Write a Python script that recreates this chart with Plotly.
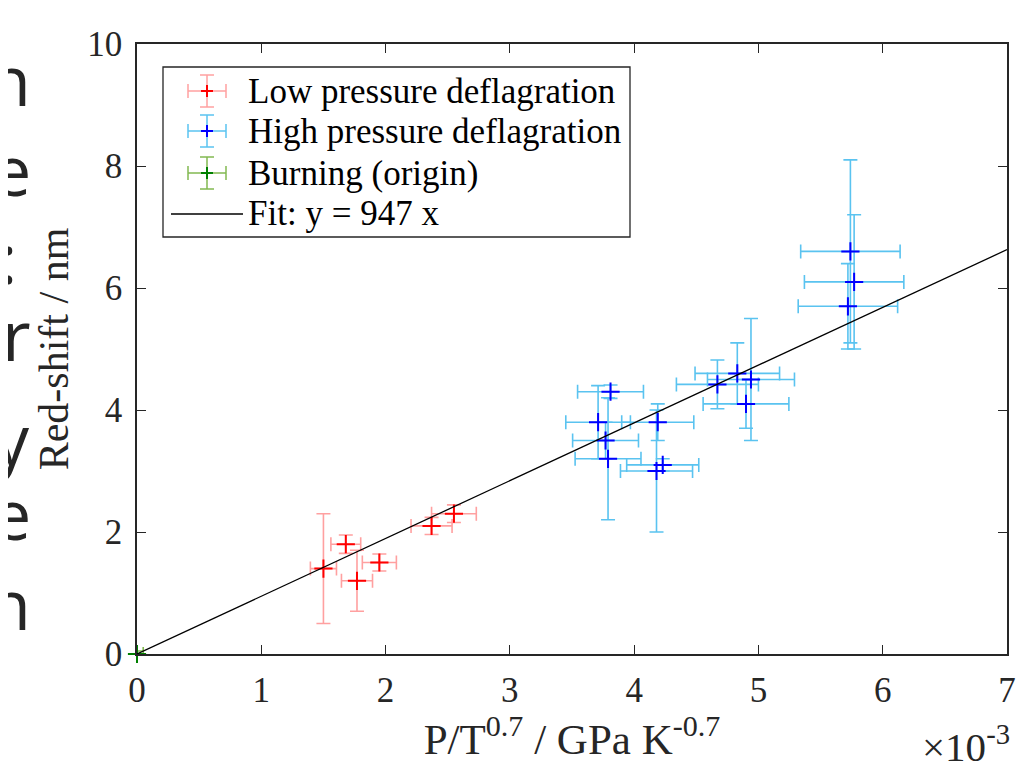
import plotly.graph_objects as go

# ---------------- data (x in units of 1e-3 GPa K^-0.7) ----------------
low_x = [1.50, 1.68, 1.77, 1.95, 2.37, 2.55]
low_y = [1.40, 1.80, 1.20, 1.50, 2.10, 2.30]
low_xerr = [0.105, 0.12, 0.125, 0.137, 0.165, 0.18]
low_yerr = [0.90, 0.15, 0.50, 0.14, 0.14, 0.145]

high_x = [3.71, 3.77, 3.79, 3.81, 4.18, 4.19, 4.23, 4.67, 4.83, 4.90, 4.94, 5.72, 5.74, 5.77]
high_y = [3.80, 3.50, 3.20, 4.30, 3.00, 3.80, 3.10, 4.42, 4.60, 4.10, 4.50, 5.70, 6.60, 6.10]
high_xerr = [0.26, 0.265, 0.265, 0.265, 0.29, 0.29, 0.29, 0.33, 0.34, 0.345, 0.35, 0.40, 0.40, 0.40]
high_yerr = [0.60, 0.30, 1.00, 0.11, 1.00, 0.30, 0.10, 0.40, 0.50, 0.40, 1.00, 0.70, 1.50, 1.10]

origin_x = [0.0]
origin_y = [0.0]
origin_xerr = [0.05]
origin_yerr = [0.05]

fit_slope = 947  # nm per (GPa K^-0.7)
fit_x = [0.0, 7.0]
fit_y = [fit_slope * v * 1e-3 for v in fit_x]

x_ticks = [0, 1, 2, 3, 4, 5, 6, 7]
y_ticks = [0, 2, 4, 6, 8, 10]

series_names = ["Low pressure deflagration", "High pressure deflagration",
                "Burning (origin)", "Fit: y = 947 x"]

side_letters = ["n", "e", ":", "r", "y", "e", "n"]
side_letter_y = [79, 169, 257, 334, 438, 513, 603]   # page pixel rows
side_letter_x = [33, 33, 19, 33, 32, 33, 33]         # anchor (right), page pixels

# ---------------- figure ----------------
OFF = 8                       # default body margin of the html page
W, H = 1033 - OFF, 763 - OFF
PL, PR, PT, PB = 137, 1007, 44, 654   # plot area in page pixels
L, R, T, B = PL - OFF, (OFF + W) - PR, PT - OFF, (OFF + H) - PB
PW, PH = PR - PL, PB - PT
SERIF = "Liberation Serif, Times New Roman, serif"
AXC = "#262626"

RED_BAR, RED_MK = "rgb(255,160,160)", "rgb(255,0,0)"
BLUE_BAR, BLUE_MK = "rgb(90,195,240)", "rgb(0,0,255)"
GRN_BAR, GRN_MK = "rgb(130,185,80)", "rgb(0,128,0)"


def px_to_paper(px, py):
    return (px - PL) / PW, (PB - py) / PH


fig = go.Figure()


def err_series(xs, ys, xe, ye, bar_col, mk_col, name):
    fig.add_trace(go.Scatter(
        x=xs, y=ys, mode="markers", name=name, showlegend=False,
        marker=dict(symbol="cross-thin", size=13, color=mk_col,
                    line=dict(color=mk_col, width=2)),
        error_x=dict(type="data", array=xe, color=bar_col, thickness=1.6, width=7),
        error_y=dict(type="data", array=ye, color=bar_col, thickness=1.6, width=7),
        cliponaxis=False,
    ))


err_series(low_x, low_y, low_xerr, low_yerr, RED_BAR, RED_MK, series_names[0])
err_series(high_x, high_y, high_xerr, high_yerr, BLUE_BAR, BLUE_MK, series_names[1])
err_series(origin_x, origin_y, origin_xerr, origin_yerr, GRN_BAR, GRN_MK, series_names[2])

fig.add_trace(go.Scatter(
    x=fit_x, y=fit_y, mode="lines", name=series_names[3], showlegend=False,
    line=dict(color="black", width=1.3),
))

axis_common = dict(
    showline=True, linecolor=AXC, linewidth=1.5, mirror="ticks",
    ticks="inside", ticklen=9, tickwidth=1.3, tickcolor=AXC,
    showgrid=False, zeroline=False,
    tickfont=dict(family=SERIF, size=35, color=AXC),
)

fig.update_xaxes(range=[0, 7], tickvals=x_ticks, ticktext=[str(v) for v in x_ticks],
                 ticklabelstandoff=4,
                 title=dict(text="P/T<sup>0.7</sup> / GPa K<sup>-0.7</sup>",
                            font=dict(family=SERIF, size=43, color=AXC), standoff=10),
                 **axis_common)
fig.update_yaxes(range=[0, 10], tickvals=y_ticks, ticktext=[str(v) for v in y_ticks],
                 ticklabelstandoff=6,
                 title=dict(text="Red-shift / nm",
                            font=dict(family=SERIF, size=42, color=AXC), standoff=6),
                 **axis_common)

shapes = []
annotations = []

# exponent label of x axis
ax_, ay_ = px_to_paper(1012, 716)
annotations.append(dict(
    text="\u00d710<sup>-3</sup>", xref="paper", yref="paper",
    x=ax_, y=ay_, xanchor="right", yanchor="top", showarrow=False,
    font=dict(family=SERIF, size=41, color=AXC),
))

# cropped slide text at the far left
for ch, py, pxr in zip(side_letters, side_letter_y, side_letter_x):
    lx, ly = px_to_paper(pxr, py)
    annotations.append(dict(
        text=ch, xref="paper", yref="paper",
        x=lx, y=ly, xanchor="right", yanchor="middle", showarrow=False,
        font=dict(family="Open Sans, Noto Sans, sans-serif", size=70, color="#262626"),
    ))

# ---------------- legend (drawn in paper space) ----------------
def seg(x0, y0, x1, y1, color, width):
    a, b = px_to_paper(x0, y0)
    c, d = px_to_paper(x1, y1)
    shapes.append(dict(type="line", xref="paper", yref="paper",
                       x0=a, y0=b, x1=c, y1=d, line=dict(color=color, width=width)))


bx0, by0 = px_to_paper(163, 67)
bx1, by1 = px_to_paper(630, 237)
shapes.append(dict(type="rect", xref="paper", yref="paper", x0=bx0, y0=by1, x1=bx1, y1=by0,
                   line=dict(color=AXC, width=1.3), fillcolor="white", layer="above"))

row_y = [91, 131, 173, 214]
icon_cx = 207
icon_cols = [(RED_BAR, RED_MK), (BLUE_BAR, BLUE_MK), (GRN_BAR, GRN_MK)]
for (bar_c, mk_c), cy in zip(icon_cols, row_y[:3]):
    seg(icon_cx - 19, cy, icon_cx + 19, cy, bar_c, 1.5)
    seg(icon_cx - 19, cy - 7, icon_cx - 19, cy + 7, bar_c, 1.5)
    seg(icon_cx + 19, cy - 7, icon_cx + 19, cy + 7, bar_c, 1.5)
    seg(icon_cx, cy - 16, icon_cx, cy + 16, bar_c, 1.5)
    seg(icon_cx - 7, cy - 16, icon_cx + 7, cy - 16, bar_c, 1.5)
    seg(icon_cx - 7, cy + 16, icon_cx + 7, cy + 16, bar_c, 1.5)
    seg(icon_cx - 6, cy, icon_cx + 6, cy, mk_c, 2)
    seg(icon_cx, cy - 6, icon_cx, cy + 6, mk_c, 2)
seg(171, row_y[3], 243, row_y[3], "black", 1.3)

for name, cy in zip(series_names, row_y):
    tx, ty = px_to_paper(246, cy)
    annotations.append(dict(
        text=name, xref="paper", yref="paper", x=tx, y=ty,
        xanchor="left", yanchor="middle", showarrow=False,
        font=dict(family=SERIF, size=35, color="black"),
    ))

fig.update_layout(
    width=W, height=H,
    margin=dict(l=L, r=R, t=T, b=B, pad=0),
    paper_bgcolor="white", plot_bgcolor="white",
    font=dict(family=SERIF, color="black"),
    showlegend=False,
    shapes=shapes,
    annotations=annotations,
)

fig.write_html("out.html")
